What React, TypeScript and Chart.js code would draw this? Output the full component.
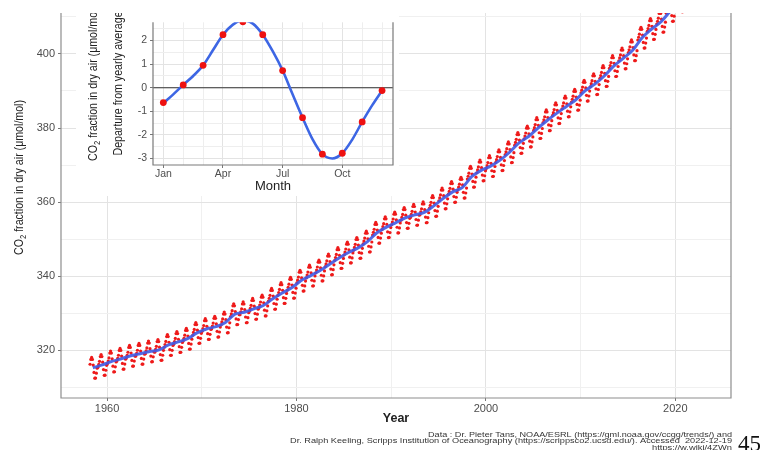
import React, { useEffect, useRef } from 'react';
import { Chart, registerables } from 'chart.js';

Chart.register(...registerables);

// ---------- DATA ----------
const years = [
  1958, 1959, 1960, 1961, 1962, 1963, 1964, 1965, 1966, 1967,
  1968, 1969, 1970, 1971, 1972, 1973, 1974, 1975, 1976, 1977,
  1978, 1979, 1980, 1981, 1982, 1983, 1984, 1985, 1986, 1987,
  1988, 1989, 1990, 1991, 1992, 1993, 1994, 1995, 1996, 1997,
  1998, 1999, 2000, 2001, 2002, 2003, 2004, 2005, 2006, 2007,
  2008, 2009, 2010, 2011, 2012, 2013, 2014, 2015, 2016, 2017,
  2018, 2019, 2020, 2021, 2022,
];
// yearly average CO2 (µmol/mol)
const annualMean = [
  315.2, 315.98, 316.91, 317.64, 318.45, 318.99, 319.62, 320.04, 321.37, 322.18,
  323.05, 324.62, 325.68, 326.32, 327.46, 329.68, 330.19, 331.13, 332.03, 333.84,
  335.41, 336.84, 338.76, 340.12, 341.48, 343.15, 344.87, 346.35, 347.61, 349.31,
  351.69, 353.2, 354.45, 355.7, 356.54, 357.21, 358.96, 360.97, 362.74, 363.88,
  366.84, 368.54, 369.71, 371.32, 373.45, 375.98, 377.7, 379.98, 382.09, 384.02,
  385.83, 387.64, 390.1, 391.85, 394.06, 396.74, 398.81, 401.01, 404.41, 406.76,
  408.72, 411.66, 414.24, 416.45, 418.56,
];
// monthly departure from yearly average (inset points)
const monthNames = ['Jan', 'Feb', 'Mar', 'Apr', 'May', 'Jun', 'Jul', 'Aug', 'Sep', 'Oct', 'Nov', 'Dec'];
const monthDeparture = [-0.63, 0.12, 0.95, 2.25, 2.8, 2.25, 0.73, -1.27, -2.82, -2.78, -1.45, -0.12];
const firstMonthOfRecord = 3; // March 1958
const lastMonthOfRecord = 11; // November 2022

// smooth seasonal fit (inset blue curve)
const fitMonth = [1, 1.5, 2, 2.5, 3, 3.5, 4, 4.5, 5, 5.5, 6, 6.5, 7, 7.5, 8, 8.5, 9, 9.5, 10, 10.5, 11, 11.5, 12];
const fitValue = [-0.66, -0.28, 0.12, 0.5, 0.95, 1.6, 2.25, 2.68, 2.86, 2.72, 2.25, 1.55, 0.73, -0.28, -1.27, -2.18, -2.82, -3.0, -2.78, -2.2, -1.45, -0.75, -0.12];

// ticks
const xMajorTicks = [1960, 1980, 2000, 2020];
const xMinorTicks = [1970, 1990, 2010];
const yMajorTicks = [320, 340, 360, 380, 400];
const yMinorTicks = [310, 330, 350, 370, 390, 410];
const insetXMajor = [1, 4, 7, 10];
const insetXMinor = [2, 3, 5, 6, 8, 9, 11, 12];
const insetYMajor = [-3, -2, -1, 0, 1, 2];
const insetYMinor = [-2.5, -1.5, -0.5, 0.5, 1.5, 2.5];

const creditLines = [
  'Data : Dr. Pieter Tans, NOAA/ESRL (https://gml.noaa.gov/ccgg/trends/) and',
  'Dr. Ralph Keeling, Scripps Institution of Oceanography (https://scrippsco2.ucsd.edu/). Accessed  2022-12-19',
  'https://w.wiki/4ZWn',
];

// ---------- derived tables ----------
const monthlyPoints: { x: number; y: number }[] = [];
years.forEach((yr, i) => {
  monthDeparture.forEach((d, m) => {
    const month = m + 1;
    if (i === 0 && month < firstMonthOfRecord) return;
    if (i === years.length - 1 && month > lastMonthOfRecord) return;
    monthlyPoints.push({ x: yr + (m + 0.5) / 12, y: annualMean[i] + d });
  });
});
const trendPoints = years.map((yr, i) => ({ x: yr + 0.5, y: annualMean[i] }));

const FONT = '"Liberation Sans", Arial, Helvetica, sans-serif';
const SERIF = '"Liberation Serif", "Times New Roman", serif';

function sortedTicks(a: number[], b: number[]) {
  return [...a, ...b].sort((p, q) => p - q).map((v) => ({ value: v }));
}

function drawVerticalCO2(ctx: CanvasRenderingContext2D, cx: number, cy: number, size: number, targetLen: number, rest: string, color: string) {
  ctx.save();
  ctx.font = `${size}px ${FONT}`;
  const w1 = ctx.measureText('CO').width;
  const w3 = ctx.measureText(rest).width;
  ctx.font = `${size * 0.72}px ${FONT}`;
  const w2 = ctx.measureText('2').width;
  const W = w1 + w2 + w3;
  const s = targetLen / W;
  ctx.translate(cx, cy);
  ctx.rotate(-Math.PI / 2);
  ctx.scale(s, 1);
  ctx.fillStyle = color;
  ctx.textAlign = 'left';
  ctx.textBaseline = 'alphabetic';
  const base = size * 0.36;
  let x = -W / 2;
  ctx.font = `${size}px ${FONT}`;
  ctx.fillText('CO', x, base);
  x += w1;
  ctx.font = `${size * 0.72}px ${FONT}`;
  ctx.fillText('2', x, base + size * 0.28);
  x += w2;
  ctx.font = `${size}px ${FONT}`;
  ctx.fillText(rest, x, base);
  ctx.restore();
  return s;
}

function drawVerticalPlain(ctx: CanvasRenderingContext2D, text: string, cx: number, cy: number, size: number, s: number, color: string) {
  ctx.save();
  ctx.font = `${size}px ${FONT}`;
  ctx.translate(cx, cy);
  ctx.rotate(-Math.PI / 2);
  ctx.scale(s, 1);
  ctx.fillStyle = color;
  ctx.textAlign = 'center';
  ctx.textBaseline = 'alphabetic';
  ctx.fillText(text, 0, size * 0.36);
  ctx.restore();
}

function drawRightScaled(ctx: CanvasRenderingContext2D, text: string, xRight: number, baseline: number, size: number, targetWidth: number, sy: number, color: string) {
  ctx.save();
  ctx.font = `${size}px ${FONT}`;
  const w = ctx.measureText(text).width;
  const sx = targetWidth / w;
  ctx.translate(xRight, baseline);
  ctx.scale(sx, sy);
  ctx.fillStyle = color;
  ctx.textAlign = 'right';
  ctx.textBaseline = 'alphabetic';
  ctx.fillText(text, 0, 0);
  ctx.restore();
}

function drawPanelBorder(chart: any, color: string, width: number) {
  const { ctx, chartArea: a } = chart;
  ctx.save();
  ctx.strokeStyle = color;
  ctx.lineWidth = width;
  ctx.beginPath();
  ctx.moveTo(a.left, a.top);
  ctx.lineTo(a.left, a.bottom);
  ctx.lineTo(a.right, a.bottom);
  ctx.lineTo(a.right, a.top);
  ctx.stroke();
  ctx.restore();
}

const mainDecor = {
  id: 'mainDecor',
  afterDraw(chart: any) {
    const { ctx, chartArea: a } = chart;
    drawPanelBorder(chart, '#8e8e8e', 1.2);
    // y title
    drawVerticalCO2(ctx, 18, 177.5, 12.5, 155, ' fraction in dry air (μmol/mol)', '#222');
    // x title
    ctx.save();
    ctx.font = `bold 12.5px ${FONT}`;
    ctx.fillStyle = '#222';
    ctx.textAlign = 'center';
    ctx.textBaseline = 'middle';
    ctx.fillText('Year', (a.left + a.right) / 2, 419);
    ctx.restore();
    // credits
    drawRightScaled(ctx, creditLines[0], 732, 437, 8, 304, 0.8, '#333');
    drawRightScaled(ctx, creditLines[1], 732, 443, 8, 442, 0.8, '#333');
    drawRightScaled(ctx, creditLines[2], 732, 449.5, 8, 80, 0.8, '#333');
    // page number
    ctx.save();
    ctx.font = `23px ${SERIF}`;
    ctx.fillStyle = '#111';
    ctx.textAlign = 'left';
    ctx.textBaseline = 'alphabetic';
    ctx.fillText('45', 738, 450.5);
    ctx.restore();
  },
};

const insetDecor = {
  id: 'insetDecor',
  beforeDatasetsDraw(chart: any) {
    const { ctx, chartArea: a, scales } = chart;
    const y0 = scales.y.getPixelForValue(0);
    ctx.save();
    ctx.strokeStyle = '#333';
    ctx.lineWidth = 1.2;
    ctx.beginPath();
    ctx.moveTo(a.left, y0);
    ctx.lineTo(a.right, y0);
    ctx.stroke();
    ctx.restore();
  },
  afterDraw(chart: any) {
    const { ctx, chartArea: a } = chart;
    drawPanelBorder(chart, '#7a7a7a', 1.2);
    const s = drawVerticalCO2(ctx, 16, 70.5, 12.5, 155, ' fraction in dry air (μmol/mol)', '#222');
    drawVerticalPlain(ctx, 'Departure from yearly average', 41, 70.5, 12.5, s, '#222');
    ctx.save();
    ctx.font = `13px ${FONT}`;
    ctx.fillStyle = '#222';
    ctx.textAlign = 'center';
    ctx.textBaseline = 'middle';
    ctx.fillText('Month', (a.left + a.right) / 2, 173);
    ctx.restore();
  },
};

export default function App() {
  const mainRef = useRef<HTMLCanvasElement>(null);
  const insetRef = useRef<HTMLCanvasElement>(null);

  useEffect(() => {
    const main = new Chart(mainRef.current as HTMLCanvasElement, {
      type: 'scatter',
      data: {
        datasets: [
          {
            type: 'line',
            label: 'trend',
            data: trendPoints,
            borderColor: 'rgba(62,90,228,0.9)',
            borderWidth: 3,
            pointRadius: 0,
            fill: false,
            cubicInterpolationMode: 'monotone',
            order: 0,
            clip: 0,
          } as any,
          {
            type: 'scatter',
            label: 'monthly',
            data: monthlyPoints,
            pointRadius: 1.6,
            pointBackgroundColor: '#ee1a1a',
            pointBorderColor: 'rgba(0,0,0,0)',
            pointBorderWidth: 0,
            order: 1,
            clip: 0,
          } as any,
        ],
      },
      options: {
        responsive: false,
        animation: false,
        devicePixelRatio: 1,
        events: [],
        layout: { padding: { left: 0, right: 29, top: 13, bottom: 0 } },
        plugins: { legend: { display: false }, tooltip: { enabled: false } },
        scales: {
          x: {
            type: 'linear',
            min: 1955.14,
            max: 2025.88,
            afterBuildTicks: (scale: any) => {
              scale.ticks = sortedTicks(xMajorTicks, xMinorTicks);
            },
            afterFit: (scale: any) => {
              scale.height = 52;
            },
            ticks: {
              autoSkip: false,
              maxRotation: 0,
              padding: 1,
              color: '#4d4d4d',
              font: { family: FONT, size: 11 },
              callback: (v: any) => (xMajorTicks.includes(Number(v)) ? String(v) : ''),
            },
            grid: {
              color: (c: any) => (xMajorTicks.includes(c.tick?.value) ? '#e3e3e3' : '#f0f0f0'),
              tickColor: (c: any) => (xMajorTicks.includes(c.tick?.value) ? '#777' : 'rgba(0,0,0,0)'),
              tickLength: 3,
              lineWidth: 1,
            },
            border: { display: false },
          },
          y: {
            type: 'linear',
            min: 307.03,
            max: 411.08,
            afterBuildTicks: (scale: any) => {
              scale.ticks = sortedTicks(yMajorTicks, yMinorTicks);
            },
            afterFit: (scale: any) => {
              scale.width = 61;
            },
            ticks: {
              autoSkip: false,
              padding: 3,
              color: '#4d4d4d',
              font: { family: FONT, size: 11 },
              callback: (v: any) => (yMajorTicks.includes(Number(v)) ? String(v) : ''),
            },
            grid: {
              color: (c: any) => (yMajorTicks.includes(c.tick?.value) ? '#e3e3e3' : '#f0f0f0'),
              tickColor: (c: any) => (yMajorTicks.includes(c.tick?.value) ? '#777' : 'rgba(0,0,0,0)'),
              tickLength: 3,
              lineWidth: 1,
            },
            border: { display: false },
          },
        },
      },
      plugins: [mainDecor],
    } as any);

    const inset = new Chart(insetRef.current as HTMLCanvasElement, {
      type: 'scatter',
      data: {
        datasets: [
          {
            type: 'scatter',
            label: 'monthly departure',
            data: monthDeparture.map((v, i) => ({ x: i + 1, y: v })),
            pointRadius: 3.4,
            pointBackgroundColor: '#ee1111',
            pointBorderColor: 'rgba(0,0,0,0)',
            pointBorderWidth: 0,
            order: 0,
            clip: 0,
          } as any,
          {
            type: 'line',
            label: 'fit',
            data: fitMonth.map((m, i) => ({ x: m, y: fitValue[i] })),
            borderColor: '#3d66e4',
            borderWidth: 2.6,
            pointRadius: 0,
            fill: false,
            cubicInterpolationMode: 'monotone',
            order: 1,
            clip: 0,
          } as any,
        ],
      },
      options: {
        responsive: false,
        animation: false,
        devicePixelRatio: 1,
        events: [],
        layout: { padding: { left: 0, right: 6, top: 0, bottom: 0 } },
        plugins: { legend: { display: false }, tooltip: { enabled: false } },
        scales: {
          x: {
            type: 'linear',
            min: 0.48,
            max: 12.55,
            afterBuildTicks: (scale: any) => {
              scale.ticks = sortedTicks(insetXMajor, insetXMinor);
            },
            afterFit: (scale: any) => {
              scale.height = 31;
            },
            ticks: {
              autoSkip: false,
              maxRotation: 0,
              padding: 0,
              color: '#4d4d4d',
              font: { family: FONT, size: 10.5 },
              callback: (v: any) => (insetXMajor.includes(Number(v)) ? monthNames[Number(v) - 1] : ''),
            },
            grid: {
              color: (c: any) => (insetXMajor.includes(c.tick?.value) ? '#e3e3e3' : '#eeeeee'),
              tickColor: (c: any) => (insetXMajor.includes(c.tick?.value) ? '#777' : 'rgba(0,0,0,0)'),
              tickLength: 3,
              lineWidth: 1,
            },
            border: { display: false },
          },
          y: {
            type: 'linear',
            min: -3.279,
            max: 2.777,
            afterBuildTicks: (scale: any) => {
              scale.ticks = sortedTicks(insetYMajor, insetYMinor);
            },
            afterFit: (scale: any) => {
              scale.width = 77;
            },
            ticks: {
              autoSkip: false,
              padding: 3,
              color: '#4d4d4d',
              font: { family: FONT, size: 10.5 },
              callback: (v: any) => (insetYMajor.includes(Number(v)) ? String(v) : ''),
            },
            grid: {
              color: (c: any) => (insetYMajor.includes(c.tick?.value) ? '#e3e3e3' : '#eeeeee'),
              tickColor: (c: any) => (insetYMajor.includes(c.tick?.value) ? '#777' : 'rgba(0,0,0,0)'),
              tickLength: 3,
              lineWidth: 1,
            },
            border: { display: false },
          },
        },
      },
      plugins: [insetDecor],
    } as any);

    return () => {
      main.destroy();
      inset.destroy();
    };
  }, []);

  return (
    <div style={{ position: 'absolute', left: 0, top: 0, width: 760, height: 450, background: '#fff', overflow: 'hidden' }}>
      <canvas ref={mainRef} width={760} height={450} style={{ position: 'absolute', left: 0, top: 0, width: 760, height: 450 }} />
      <canvas ref={insetRef} width={323} height={183} style={{ position: 'absolute', left: 76, top: 13, width: 323, height: 183, background: '#fff' }} />
    </div>
  );
}
